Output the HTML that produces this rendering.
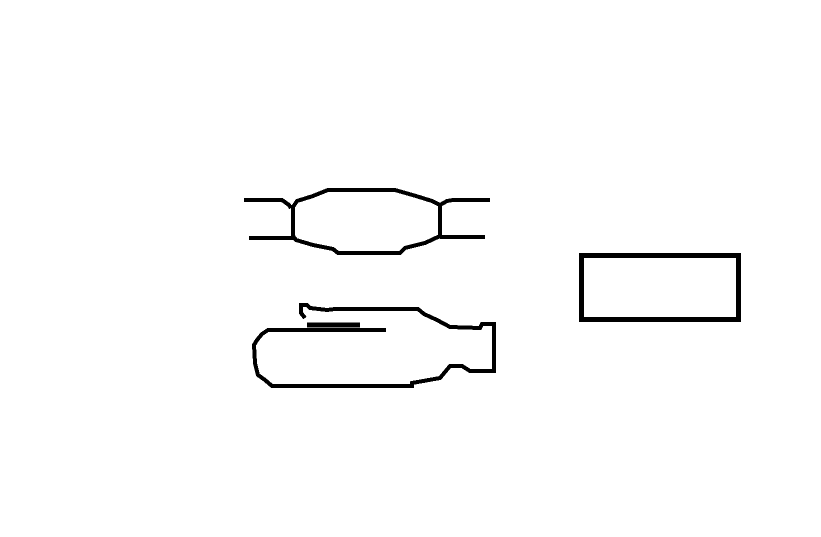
<!DOCTYPE html>
<html><head><style>html,body{margin:0;padding:0;background:#fff;width:821px;height:537px;overflow:hidden}</style></head>
<body>
<svg width="821" height="537" viewBox="0 0 821 537" xmlns="http://www.w3.org/2000/svg" shape-rendering="crispEdges">
<g fill="none" stroke="#000" stroke-width="4" stroke-linejoin="miter">
<polyline points="244,200 282,200 289,205 291,208"/>
<polyline points="293,205 293,238 249,238"/>
<polygon points="293,207 297,201 313,196 328,190 395,190 416,196 432,201 440,205 440,236 425,243 405,248 400,253 338,253 333,249 313,245 296,240 293,236"/>
<polyline points="440,205 447,201 453,200 490,200"/>
<polyline points="440,237 485,237"/>
<polyline points="305,318 301,313 301,305 307,305 310,308 327,310 335,309 418,309 424,314 437,320 450,327 480,328 482,324 494,324 494,371 470,371 462,366 450,366 445,372 440,378 412,383 412,386 272,386 265,380 258,375 255,363 254,345 257,340 262,334 268,330 386,330"/>
<line x1="307" y1="325" x2="360" y2="325" stroke-width="5"/>
<rect x="581.5" y="255.5" width="157" height="64" stroke-width="5"/>
</g>
</svg>
</body></html>
